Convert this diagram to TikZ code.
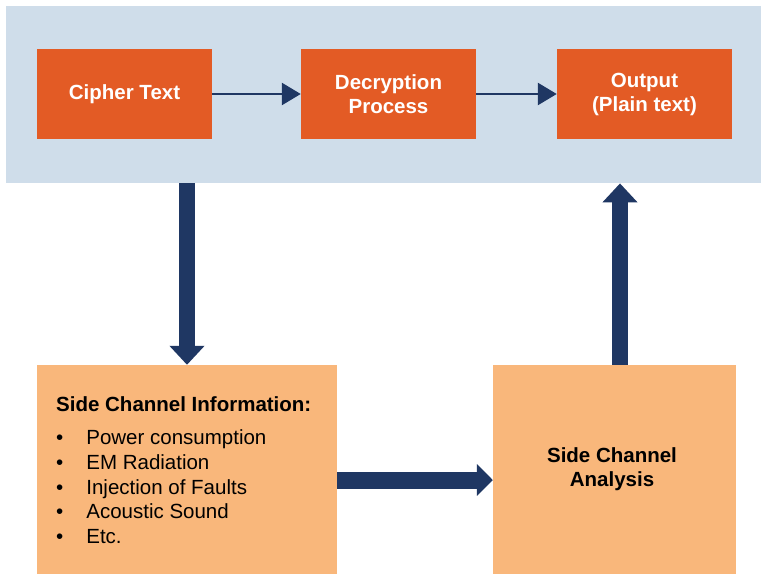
\documentclass[tikz,border=0pt]{standalone}
\usepackage{fontspec}
\setmainfont{Liberation Sans}
\usetikzlibrary{arrows.meta}
\definecolor{bandblue}{HTML}{CFDDEA}
\definecolor{deeporange}{HTML}{E35B25}
\definecolor{paleorange}{HTML}{F9B77B}
\definecolor{navy}{HTML}{1F3763}
\tikzset{
  stagebox/.style={fill=deeporange, text=white, inner sep=0pt,
    minimum width=175pt, minimum height=90pt, align=center,
    font=\bfseries\fontsize{20.5}{24}\selectfont},
  panelbox/.style={fill=paleorange, inner sep=0pt},
  flowarrow/.style={navy, line width=2.5pt,
    -{Triangle[width=22pt,length=19pt]}},
  blockarrow/.style={navy, line width=16pt,
    -{Triangle[width=34pt,length=19pt]}},
}
\begin{document}
\begin{tikzpicture}[x=1pt,y=-1pt]
\useasboundingbox (0,0) rectangle (761,574);
\fill[white] (0,0) rectangle (761,574);

% top band with the decryption chain
\node (band) [fill=bandblue, anchor=north west, inner sep=0pt,
  minimum width=755pt, minimum height=177pt] at (6,6) {};
\node (cipher) [stagebox] at (124.5,94) {Cipher Text};
\node (decrypt) [stagebox] at (388.5,94) {Decryption\\Process};
\node (output) [stagebox] at (644.5,94) {Output\\(Plain text)};
\draw[flowarrow] (cipher) -- (decrypt);
\draw[flowarrow] (decrypt) -- (output);

% lower panels
\node (info) [panelbox, minimum width=300pt, minimum height=209pt] at (187,469.5) {};
\node (analysis) [panelbox, minimum width=243pt, minimum height=209pt] at (614.5,469.5) {};
\node (analysistext) [align=center, inner sep=0pt,
  font=\bfseries\fontsize{20.5}{24}\selectfont] at (612,469.5) {Side Channel\\Analysis};

\node (infotitle) [anchor=west, inner sep=0pt,
  font=\bfseries\fontsize{20.5}{24}\selectfont] at (56,404) {Side Channel Information:};
\node (infolist) [anchor=north west, inner sep=0pt,
  font=\fontsize{20.5}{24.75}\selectfont] at (56,427) {%
  \begin{tabular}{@{}l@{\hspace{23pt}}l@{}}
  \textbullet & Power consumption\\
  \textbullet & EM Radiation\\
  \textbullet & Injection of Faults\\
  \textbullet & Acoustic Sound\\
  \textbullet & Etc.
  \end{tabular}};

% block arrows between band and panels
\coordinate (downx) at (187,0);
\coordinate (upx) at (620,0);
\coordinate (acrossy) at (0,480);
\draw[blockarrow] (band.south -| downx) -- (info.north -| downx);
\draw[blockarrow] (analysis.north -| upx) -- (band.south -| upx);
\draw[blockarrow, line width=17pt, -{Triangle[width=31pt,length=16pt]}]
  (info.east |- acrossy) -- (analysis.west |- acrossy);
\end{tikzpicture}
\end{document}
